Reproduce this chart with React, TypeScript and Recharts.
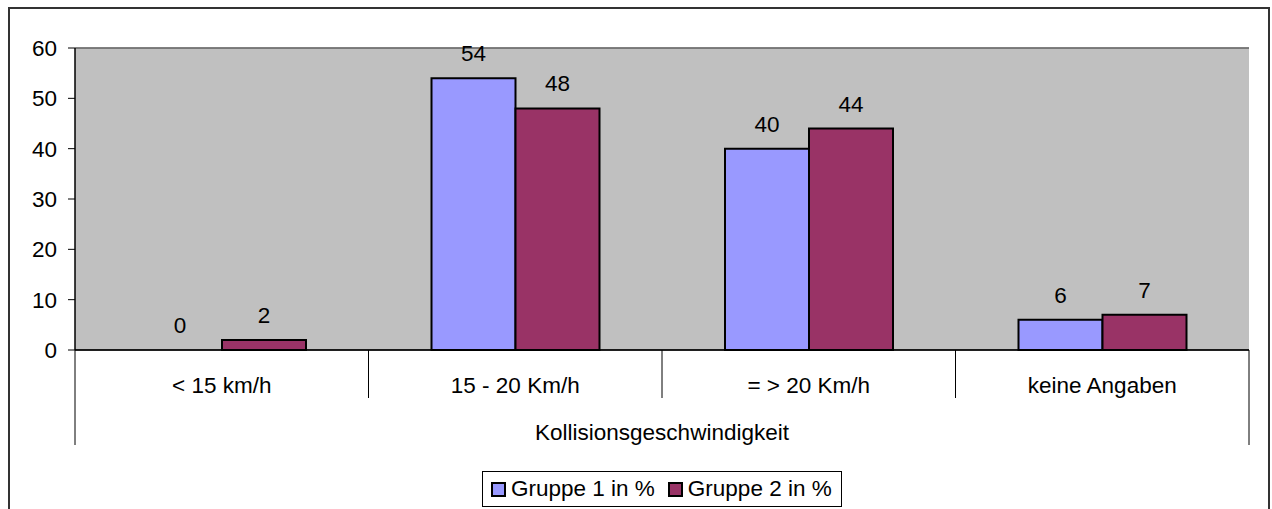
import React from "react";
import {
  BarChart,
  Bar,
  Cell,
  XAxis,
  YAxis,
  CartesianGrid,
  LabelList,
  Legend,
  ReferenceLine,
} from "recharts";

// Kollisionsgeschwindigkeit – Anteile je Gruppe in Prozent
const categories = ["< 15 km/h", "15 - 20 Km/h", "= > 20 Km/h", "keine Angaben"];
const gruppe1 = [0, 54, 40, 6];
const gruppe2 = [2, 48, 44, 7];
const yTicks = [0, 10, 20, 30, 40, 50, 60];

const seriesNames = ["Gruppe 1 in %", "Gruppe 2 in %"];
const seriesColors = ["#9999FF", "#993366"];

const data = categories.map((c, i) => ({
  name: c,
  g1: gruppe1[i],
  g2: gruppe2[i],
}));

const W = 1272;
const H = 509;
const FONT = "'Liberation Sans', Arial, sans-serif";
const FS = 22.5;

const MARGIN = { top: 48, right: 23, bottom: 64, left: 15 };
const Y_AXIS_W = 60;
const PLOT_W = W - MARGIN.left - MARGIN.right - Y_AXIS_W;

const CategoryTick = (props: any) => {
  const { x, y, payload, index } = props;
  const band = PLOT_W / categories.length;
  const left = x - band / 2;
  const right = x + band / 2;
  const last = index === categories.length - 1;
  return (
    <g>
      <line
        x1={left}
        x2={left}
        y1={y}
        y2={y + (index === 0 ? 95 : 48)}
        stroke="#000"
        strokeWidth={1}
      />
      {last && (
        <line x1={right} x2={right} y1={y} y2={y + 95} stroke="#000" strokeWidth={1} />
      )}
      <text
        x={x}
        y={y + 35}
        textAnchor="middle"
        dominantBaseline="central"
        fontFamily={FONT}
        fontSize={FS}
        fill="#000"
      >
        {payload.value}
      </text>
    </g>
  );
};

// value label drawn above each bar, including zero-height bars
const ValueLabel = (props: any) => {
  const { x, y, width, height, value } = props;
  const top = value === 0 ? y + height : y;
  return (
    <text
      x={x + width / 2}
      y={top - 17}
      textAnchor="middle"
      fontFamily={FONT}
      fontSize={FS}
      fill="#000"
    >
      {value}
    </text>
  );
};

const LegendBox = () => (
  <div
    style={{
      boxSizing: "border-box",
      width: 360,
      height: 36,
      border: "1px solid #000",
      background: "#fff",
      display: "flex",
      alignItems: "center",
      paddingLeft: 8,
      fontFamily: FONT,
      fontSize: FS,
      color: "#000",
      whiteSpace: "nowrap",
    }}
  >
    {seriesNames.map((n, i) => (
      <div key={n} style={{ display: "flex", alignItems: "center", marginRight: 13 }}>
        <span
          style={{
            boxSizing: "border-box",
            display: "inline-block",
            width: 15,
            height: 15,
            background: seriesColors[i],
            border: "2px solid #000",
            marginRight: 5,
          }}
        />
        <span style={{ lineHeight: "22px" }}>{n}</span>
      </div>
    ))}
  </div>
);

export default function App() {
  return (
    <div
      style={{
        position: "absolute",
        left: 0,
        top: 0,
        width: W,
        height: H,
        overflow: "hidden",
        background: "#fff",
      }}
    >
      <div
        style={{
          position: "absolute",
          left: 8,
          top: 7,
          width: 1262,
          height: 520,
          boxSizing: "border-box",
          border: "2px solid #333",
        }}
      />
      <BarChart
        width={W}
        height={H}
        data={data}
        margin={MARGIN}
        barGap={0}
        barSize={84}
        style={{ position: "absolute", left: 0, top: 0 }}
      >
        <CartesianGrid
          vertical={false}
          stroke="#000"
          strokeOpacity={1}
          fill="#C0C0C0"
          fillOpacity={1}
        />
        <Legend
          layout="horizontal"
          verticalAlign="middle"
          align="center"
          wrapperStyle={{ top: 471, left: 482, width: 360, height: 36 }}
          content={<LegendBox />}
        />
        <Bar
          yAxisId="left"
          dataKey="g1"
          name={seriesNames[0]}
          fill={seriesColors[0]}
          stroke="#000"
          strokeWidth={2}
          minPointSize={1}
          isAnimationActive={false}
        >
          {gruppe1.map((v, i) => (
            <Cell
              key={i}
              fill={v === 0 ? "transparent" : seriesColors[0]}
              stroke={v === 0 ? "none" : "#000"}
            />
          ))}
          <LabelList dataKey="g1" content={<ValueLabel />} />
        </Bar>
        <Bar
          yAxisId="left"
          dataKey="g2"
          name={seriesNames[1]}
          fill={seriesColors[1]}
          stroke="#000"
          strokeWidth={2}
          isAnimationActive={false}
        >
          <LabelList dataKey="g2" content={<ValueLabel />} />
        </Bar>
        <XAxis
          dataKey="name"
          height={95}
          interval={0}
          tickLine={false}
          tickSize={0}
          tickMargin={0}
          axisLine={{ stroke: "#000", strokeWidth: 1.5 }}
          tick={<CategoryTick />}
          label={{
            value: "Kollisionsgeschwindigkeit",
            position: "insideBottom",
            offset: 5,
            fill: "#000",
            fontSize: FS,
            fontFamily: FONT,
          }}
        />
        <YAxis
          yAxisId="left"
          width={Y_AXIS_W}
          domain={[0, 60]}
          ticks={yTicks}
          interval={0}
          tickSize={7}
          tickMargin={11}
          axisLine={{ stroke: "#000", strokeWidth: 1.5 }}
          tickLine={{ stroke: "#000" }}
          tick={{ fill: "#000", fontSize: FS, fontFamily: FONT }}
        />
        <YAxis
          yAxisId="right"
          orientation="right"
          width={0}
          domain={[0, 60]}
          ticks={yTicks}
          tick={false}
          tickLine={false}
          axisLine={{ stroke: "#808080", strokeWidth: 1.5 }}
        />
        <ReferenceLine yAxisId="left" y={60} stroke="#808080" strokeWidth={1.5} />
      </BarChart>
    </div>
  );
}
